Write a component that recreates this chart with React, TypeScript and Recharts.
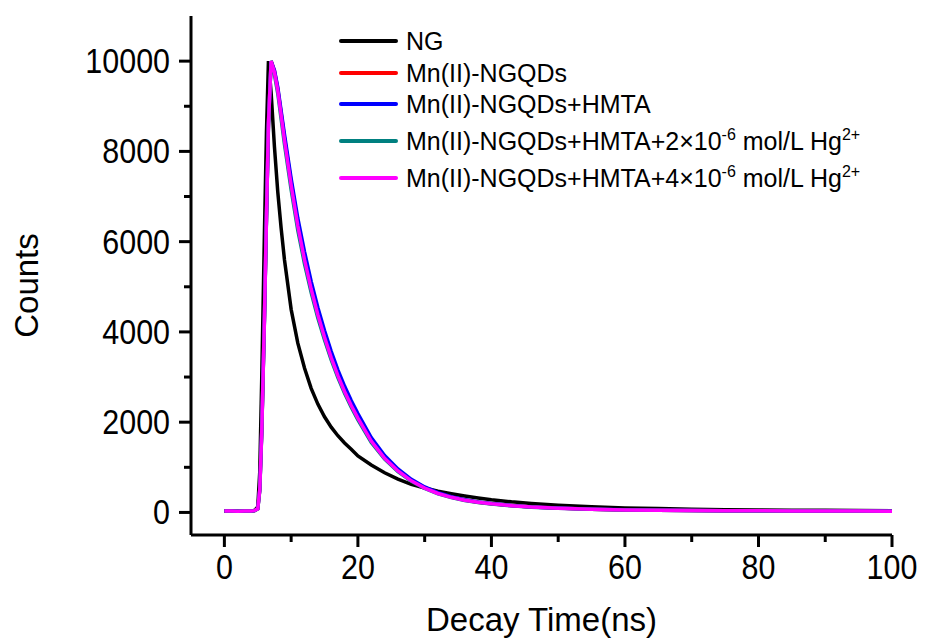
import React from "react";
import { Line, LineChart, XAxis, YAxis } from "recharts";

// decay time (ns)
const times = [0, 1, 2, 3, 4, 4.5, 5, 5.3, 5.6, 6, 6.3, 6.6, 7, 7.5, 8, 8.5, 9, 10, 11, 12, 13, 14, 15, 16, 17, 18, 19, 20, 22, 24, 26, 28, 30, 32, 34, 36, 38, 40, 43, 46, 50, 55, 60, 65, 70, 75, 80, 85, 90, 95, 100];

const ng = [30, 29, 31, 30, 33, 45, 120, 900, 3000, 6200, 8400, 10000, 9300, 8100, 7100, 6300, 5600, 4500, 3750, 3200, 2750, 2400, 2120, 1890, 1700, 1540, 1400, 1250, 1050, 880, 740, 620, 540, 470, 415, 365, 320, 280, 235, 200, 160, 125, 100, 85, 72, 62, 55, 50, 46, 43, 40];
const mnNgqds = [29, 30, 31, 29, 31, 42, 85, 520, 1850, 4350, 6550, 8650, 10000, 9780, 9380, 8850, 8300, 7320, 6420, 5660, 5010, 4440, 3930, 3480, 3080, 2720, 2410, 2120, 1610, 1225, 940, 715, 550, 428, 340, 274, 228, 192, 152, 120, 96, 71, 56, 48, 43, 39, 36, 34, 32, 31, 30];
const mnHmta = [31, 30, 30, 31, 32, 41, 82, 510, 1820, 4320, 6520, 8620, 10000, 9800, 9420, 8900, 8380, 7400, 6520, 5780, 5120, 4540, 4030, 3570, 3160, 2800, 2480, 2190, 1660, 1260, 965, 735, 565, 438, 348, 280, 232, 196, 155, 122, 98, 73, 57, 49, 44, 40, 37, 34, 32, 31, 30];
const mnHg2 = [30, 29, 30, 30, 31, 39, 78, 490, 1780, 4280, 6480, 8580, 10000, 9700, 9280, 8720, 8160, 7150, 6250, 5510, 4870, 4310, 3820, 3380, 2990, 2640, 2330, 2050, 1550, 1180, 905, 690, 532, 414, 330, 266, 222, 188, 148, 116, 94, 69, 54, 46, 41, 37, 34, 32, 30, 29, 28];
const mnHg4 = [30, 31, 29, 30, 32, 40, 80, 500, 1800, 4300, 6500, 8600, 10000, 9750, 9350, 8800, 8250, 7250, 6350, 5600, 4950, 4380, 3880, 3430, 3030, 2680, 2370, 2090, 1580, 1200, 920, 700, 540, 420, 335, 270, 225, 190, 150, 118, 95, 70, 55, 47, 42, 38, 35, 33, 31, 30, 29];

const xTicks = [0, 10, 20, 30, 40, 50, 60, 70, 80, 90, 100];
const yTicks = [0, 1000, 2000, 3000, 4000, 5000, 6000, 7000, 8000, 9000, 10000];

type Part = { t: string; sup?: boolean };

const series = [
  { key: "ng", name: "NG", color: "#000000", values: ng },
  { key: "mn", name: "Mn(II)-NGQDs", color: "#ff0000", values: mnNgqds },
  { key: "hmta", name: "Mn(II)-NGQDs+HMTA", color: "#0000ff", values: mnHmta },
  { key: "hg2", name: "Mn(II)-NGQDs+HMTA+2×10-6 mol/L Hg2+", color: "#008080", values: mnHg2 },
  { key: "hg4", name: "Mn(II)-NGQDs+HMTA+4×10-6 mol/L Hg2+", color: "#ff00ff", values: mnHg4 },
];

const legendLabels: Part[][] = [
  [{ t: "NG" }],
  [{ t: "Mn(II)-NGQDs" }],
  [{ t: "Mn(II)-NGQDs+HMTA" }],
  [{ t: "Mn(II)-NGQDs+HMTA+2×10" }, { t: "-6", sup: true }, { t: " mol/L Hg" }, { t: "2+", sup: true }],
  [{ t: "Mn(II)-NGQDs+HMTA+4×10" }, { t: "-6", sup: true }, { t: " mol/L Hg" }, { t: "2+", sup: true }],
];

const data = times.map((t, i) => {
  const row: { [k: string]: number } = { t };
  series.forEach((s) => (row[s.key] = s.values[i]));
  return row;
});

const FONT = "'Liberation Sans', Arial, sans-serif";

const XTick = (props: any) => {
  const { x, y, payload } = props;
  const major = payload.value % 20 === 0;
  return (
    <g>
      <line x1={x} y1={y} x2={x} y2={y + (major ? 12 : 7)} stroke="#000" strokeWidth={3} />
      {major && (
        <text transform={`translate(${x},${y + 44}) scale(0.87,1)`} textAnchor="middle" fontSize={35} fontFamily={FONT} fill="#000">
          {payload.value}
        </text>
      )}
    </g>
  );
};

const YTick = (props: any) => {
  const { x, y, payload } = props;
  const major = payload.value % 2000 === 0;
  return (
    <g>
      <line x1={x - (major ? 12 : 7)} y1={y} x2={x} y2={y} stroke="#000" strokeWidth={3} />
      {major && (
        <text transform={`translate(${x - 21},${y + 12}) scale(0.87,1)`} textAnchor="end" fontSize={35} fontFamily={FONT} fill="#000">
          {payload.value}
        </text>
      )}
    </g>
  );
};

const YTitle = (props: any) => {
  const { viewBox } = props;
  const cx = viewBox.x + 18;
  const cy = viewBox.y + viewBox.height / 2 + 10;
  return (
    <text x={cx} y={cy} transform={`rotate(-90 ${cx} ${cy})`} textAnchor="middle" dominantBaseline="central" fontSize={33} fontFamily={FONT} fill="#000">
      Counts
    </text>
  );
};

const rowY = [21, 53, 84, 121, 158];

const ChartLegend = () => (
  <svg width={560} height={180} style={{ position: "absolute", left: 331, top: 12 }}>
    {series.map((s, i) => (
      <g key={s.key}>
        <line x1={2} y1={rowY[i]} x2={57} y2={rowY[i]} stroke={s.color} strokeWidth={4} strokeLinecap="round" />
        <text x={67} y={rowY[i] + 9} fontSize={25} fontFamily={FONT} fill="#000" style={{ whiteSpace: "pre" }}>
          {legendLabels[i].map((p, j) =>
            p.sup ? (
              <tspan key={j} dy={-10} fontSize={16}>{p.t}</tspan>
            ) : (
              <tspan key={j} dy={j > 0 ? 10 : 0} fontSize={25}>{p.t}</tspan>
            )
          )}
        </text>
      </g>
    ))}
  </svg>
);

export default function App() {
  return (
    <div style={{ position: "relative", width: 918, height: 633 }}>
      <LineChart width={918} height={633} data={data} margin={{ top: 8, right: 34, left: 0, bottom: 0 }}>
        <XAxis
          dataKey="t"
          type="number"
          domain={[-5, 100]}
          ticks={xTicks}
          interval={0}
          height={106}
          tickSize={0}
          tickMargin={0}
          tickLine={false}
          tick={<XTick />}
          axisLine={{ stroke: "#000", strokeWidth: 3 }}
          label={{ value: "Decay Time(ns)", position: "insideBottom", offset: 10, fontSize: 33, fill: "#000", fontFamily: FONT }}
        />
        <XAxis xAxisId="top" orientation="top" dataKey="t" type="number" domain={[-5, 100]} height={0} tick={false} tickLine={false} axisLine={{ stroke: "#000", strokeWidth: 3 }} />
        <YAxis
          type="number"
          domain={[-500, 11000]}
          ticks={yTicks}
          interval={0}
          width={183}
          tickSize={0}
          tickMargin={0}
          tickLine={false}
          tick={<YTick />}
          axisLine={{ stroke: "#000", strokeWidth: 3 }}
          label={YTitle}
        />
        <YAxis yAxisId="right" orientation="right" type="number" domain={[-500, 11000]} width={0} tick={false} tickLine={false} axisLine={{ stroke: "#000", strokeWidth: 3 }} />
        {series.map((s) => (
          <Line key={s.key} type="linear" dataKey={s.key} name={s.name} stroke={s.color} strokeWidth={3.5} dot={false} isAnimationActive={false} />
        ))}
      </LineChart>
      <ChartLegend />
    </div>
  );
}
